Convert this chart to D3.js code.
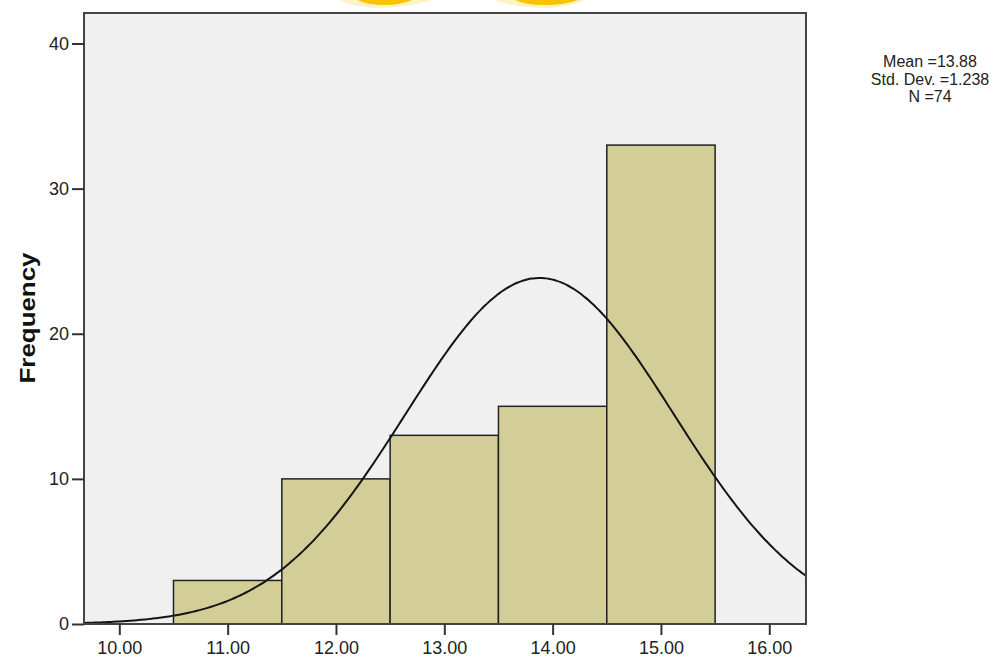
<!DOCTYPE html>
<html lang="en">
<head>
  <meta charset="UTF-8">
  <title>Histogram with Normal Curve</title>
  <script src="https://d3js.org/d3.v7.min.js"></script>
  <style>
    body {
      margin: 0;
      background: #fff;
      font-family: "Liberation Sans", Arial, sans-serif;
    }
    .tick-label {
      font-size: 18px;
      fill: #222;
    }
    .stats {
      font-size: 16px;
      fill: #222;
    }
  </style>
</head>
<body>
  <svg width="1008" height="660"></svg>

  <script>
    // histogram bins (lower edge, upper edge) and counts
    const binStarts = [10.5, 11.5, 12.5, 13.5, 14.5];
    const binEnds   = [11.5, 12.5, 13.5, 14.5, 15.5];
    const counts    = [3, 10, 13, 15, 33];

    const xTicks = [10, 11, 12, 13, 14, 15, 16];
    const yTicks = [0, 10, 20, 30, 40];

    // summary shown at the right; the curve is the fitted normal from these
    const mean = 13.88, stdDev = 1.238, n = 74, binWidth = 1;
    const statLines = ["Mean =13.88", "Std. Dev. =1.238", "N =74"];

    const svg = d3.select("svg");
    const plot = {left: 84, top: 13, right: 806, bottom: 624};

    const x = d3.scaleLinear().domain([9.674, 16.339]).range([plot.left, plot.right]);
    const y = d3.scaleLinear().domain([0, 40]).range([plot.bottom, 43.5]);

    // watermark edges peeking in at the top
    const wm = svg.append("g");
    wm.append("path").attr("d", "M340,0 L432,0 Q400,9 372,8 Q350,6 340,0 Z").attr("fill", "#fdf3c4");
    wm.append("path").attr("d", "M495,0 L585,0 Q570,7 545,8 Q512,7 495,0 Z").attr("fill", "#fdf3c4");
    wm.append("path").attr("d", "M358,0 L412,0 Q400,5 385,5 Q366,5 358,0 Z").attr("fill", "#f6c400");
    wm.append("path").attr("d", "M515,0 L578,0 Q565,5 545,5 Q525,5 515,0 Z").attr("fill", "#f6c400");

    // plot background
    svg.append("rect")
      .attr("x", plot.left).attr("y", plot.top)
      .attr("width", plot.right - plot.left)
      .attr("height", plot.bottom - plot.top)
      .attr("fill", "#f0f0f0");

    // bars
    svg.append("g").selectAll("rect")
      .data(counts)
      .join("rect")
      .attr("x", (d, i) => x(binStarts[i]))
      .attr("y", d => y(d))
      .attr("width", (d, i) => x(binEnds[i]) - x(binStarts[i]))
      .attr("height", d => y(0) - y(d))
      .attr("fill", "#d3ce98")
      .attr("stroke", "#222")
      .attr("stroke-width", 1.5);

    // normal curve
    const xs = d3.range(0, 201).map(i => x.domain()[0] + i * (x.domain()[1] - x.domain()[0]) / 200);
    const dens = v => n * binWidth / (stdDev * Math.sqrt(2 * Math.PI)) *
                      Math.exp(-0.5 * ((v - mean) / stdDev) ** 2);
    svg.append("path")
      .datum(xs)
      .attr("fill", "none")
      .attr("stroke", "#151515")
      .attr("stroke-width", 2)
      .attr("d", d3.line().x(d => x(d)).y(d => y(dens(d))).curve(d3.curveBasis));

    // frame
    svg.append("rect")
      .attr("x", plot.left).attr("y", plot.top)
      .attr("width", plot.right - plot.left)
      .attr("height", plot.bottom - plot.top)
      .attr("fill", "none")
      .attr("stroke", "#444")
      .attr("stroke-width", 2);

    // y axis
    const yAxis = svg.append("g")
      .attr("transform", `translate(${plot.left},0)`)
      .call(d3.axisLeft(y).tickValues(yTicks).tickSize(12).tickPadding(3).tickFormat(d3.format("d")));
    yAxis.select(".domain").remove();
    yAxis.selectAll("line").attr("stroke", "#333").attr("stroke-width", 2);
    yAxis.selectAll("text").attr("class", "tick-label").attr("font-size", null).attr("font-family", null);

    // x axis
    const xAxis = svg.append("g")
      .attr("transform", `translate(0,${plot.bottom})`)
      .call(d3.axisBottom(x).tickValues(xTicks).tickSize(11).tickPadding(6).tickFormat(d3.format(".2f")));
    xAxis.select(".domain").remove();
    xAxis.selectAll("line").attr("stroke", "#333").attr("stroke-width", 2);
    xAxis.selectAll("text").attr("class", "tick-label").attr("font-size", null).attr("font-family", null);

    // y label
    svg.append("text")
      .attr("transform", "translate(35,318) rotate(-90)")
      .attr("text-anchor", "middle")
      .attr("font-size", 22)
      .attr("font-weight", "bold")
      .attr("fill", "#111")
      .attr("textLength", 131)
      .attr("lengthAdjust", "spacingAndGlyphs")
      .text("Frequency");

    // stats box
    svg.append("g").selectAll("text")
      .data(statLines)
      .join("text")
      .attr("class", "stats")
      .attr("x", 930)
      .attr("y", (d, i) => 67 + i * 17.5)
      .attr("text-anchor", "middle")
      .text(d => d);
  </script>
</body>
</html>
